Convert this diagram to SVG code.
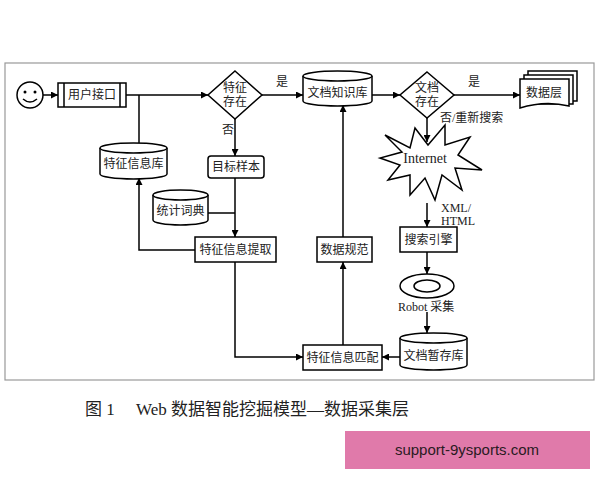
<svg xmlns="http://www.w3.org/2000/svg" width="600" height="480" viewBox="0 0 600 480">
<defs>
<marker id="a" viewBox="0 0 10 10" refX="10" refY="5" markerWidth="7" markerHeight="7" markerUnits="userSpaceOnUse" orient="auto"><path d="M0,0 L10,5 L0,10 z" fill="#000"/></marker>
<style>
.s{fill:#fff;stroke:#000;stroke-width:1.5}
.l{fill:none;stroke:#000;stroke-width:1.5}
.c{stroke:#000;stroke-width:1.5;fill:none;marker-end:url(#a)}
text{font-family:"Liberation Serif","Noto Sans CJK SC",serif;font-size:12px;fill:#222}
.m{text-anchor:middle}
</style>
</defs>
<rect width="600" height="480" fill="#fff"/>
<rect x="5" y="63" width="589" height="317" fill="none" stroke="#999" stroke-width="1.2"/>
<g id="connectors">
<path class="c" d="M43,95 H58"/>
<path class="c" d="M126,95 H208"/>
<path class="l" d="M139,95 V143"/>
<path class="c" d="M262,95 H303"/>
<path class="c" d="M372,95 H400"/>
<path class="c" d="M454,95 H520"/>
<path class="c" d="M235,119 V156"/>
<path class="c" d="M235,178 V237"/>
<path class="l" d="M208,213 H235"/>
<path class="c" d="M195,250 H139 V178"/>
<path class="c" d="M235,262 V357 H303"/>
<path class="c" d="M343,345 V262"/>
<path class="c" d="M343,237 V105"/>
<path class="c" d="M427,118 V142"/>
<path class="c" d="M427,203 V227"/>
<path class="c" d="M427,252 V274"/>
<path class="c" d="M427,312 V333"/>
<path class="c" d="M400,357 H382"/>
<text x="282" y="86" class="m">是</text>
<text x="474" y="86" class="m">是</text>
<text x="228" y="134" class="m">否</text>
<text x="440" y="122">否/重新搜索</text>
<text x="441" y="212">XML/</text>
<text x="441" y="225">HTML</text>
</g>
<g id="smiley">
<circle cx="30" cy="95" r="13" class="s"/>
<circle cx="25" cy="92" r="1.5"/><circle cx="35" cy="92" r="1.5"/>
<path d="M23,99 Q30,105 37,99" class="l" stroke-width="1.2"/>
</g>
<g id="user"><rect x="58" y="83" width="68" height="24" class="s"/><path class="l" d="M64,83 V107 M120,83 V107"/><text x="92" y="99" class="m">用户接口</text></g>
<g id="d1"><path d="M235,71 L262,95 L235,119 L208,95 z" class="s"/><text x="235" y="92" class="m">特征</text><text x="235" y="106" class="m">存在</text></g>
<g id="kb"><path d="M303,76 V101 A34.5,5 0 0 0 372,101 V76" class="s"/><ellipse cx="337.5" cy="76" rx="34.5" ry="5" class="s"/><text x="337.5" y="97" class="m">文档知识库</text></g>
<g id="d2"><path d="M427,72 L454,95 L427,118 L400,95 z" class="s"/><text x="427" y="92" class="m">文档</text><text x="427" y="106" class="m">存在</text></g>
<g id="datalayer">
<path d="M528,71 H577 V101 H528 z" class="s"/>
<path d="M524,75 H573 V104 H524 z" class="s"/>
<path d="M520,79 H569 V106 Q545,100 520,108 z" class="s"/>
<text x="544" y="97" class="m">数据层</text></g>
<g id="featdb"><path d="M100,148 V174 A33.5,5 0 0 0 167,174 V148" class="s"/><ellipse cx="133.5" cy="148" rx="33.5" ry="5" class="s"/><text x="133.5" y="168" class="m">特征信息库</text></g>
<g id="target"><rect x="208" y="156" width="56" height="22" rx="3" class="s"/><text x="236" y="171" class="m">目标样本</text></g>
<g id="dict"><path d="M153,195 V220 A27.5,5 0 0 0 208,220 V195" class="s"/><ellipse cx="180.5" cy="195" rx="27.5" ry="5" class="s"/><text x="180.5" y="215" class="m">统计词典</text></g>
<g id="extract"><rect x="195" y="237" width="81" height="25" class="s"/><text x="235.5" y="254" class="m">特征信息提取</text></g>
<g id="norm"><rect x="317" y="237" width="55" height="25" class="s"/><text x="344.5" y="254" class="m">数据规范</text></g>
<g id="match"><rect x="303" y="345" width="79" height="25" class="s"/><text x="342.5" y="362" class="m">特征信息匹配</text></g>
<g id="internet"><path class="s" d="M385,135 L410,148 L415,128 L428,145 L445,125 L445,145 L470,137 L458,155 L482,170 L455,168 L462,190 L442,175 L435,200 L425,178 L410,195 L410,175 L388,180 L400,165 L380,158 L402,152 z"/><text x="425" y="163" class="m" style="font-size:14px">Internet</text></g>
<g id="search"><rect x="400" y="227" width="57" height="25" class="s"/><text x="428.5" y="244" class="m">搜索引擎</text></g>
<g id="robot"><ellipse cx="427" cy="286" rx="27" ry="12" class="s"/><ellipse cx="427" cy="286" rx="13" ry="6" class="s"/><text x="398" y="311">Robot 采集</text></g>
<g id="tmp"><path d="M400,338 V365 A33.5,5 0 0 0 467,365 V338" class="s"/><ellipse cx="433.5" cy="338" rx="33.5" ry="5" class="s"/><text x="433.5" y="360" class="m">文档暂存库</text></g>
<text x="85" y="415" style="font-size:17px">图 1　 Web 数据智能挖掘模型—数据采集层</text>
<rect x="345" y="431" width="245" height="38" fill="#e07aaa"/>
<text x="467" y="455" class="m" style="font-family:'Liberation Sans',sans-serif;font-size:15px;fill:#2a1a22">support-9ysports.com</text>
</svg>
